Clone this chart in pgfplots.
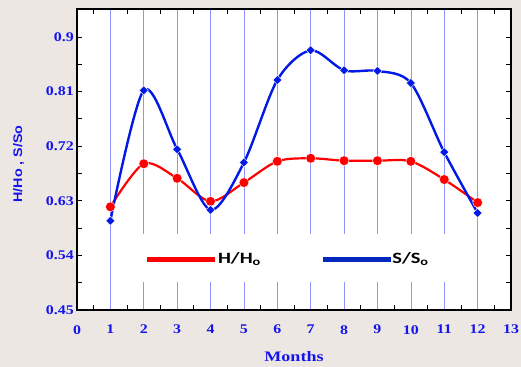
\documentclass[border=0pt]{standalone}
\usepackage{pgfplots}
\pgfplotsset{compat=1.18}
\usepackage{fontspec}
\setmainfont{Liberation Serif}
\newfontfamily\tickfont[FakeStretch=1.2]{Liberation Serif}
\newfontfamily\labfont[FakeStretch=1.25]{Liberation Serif}
\newfontfamily\legfont[FakeStretch=1.3]{Carlito}
\newfontfamily\ylabfont[FakeStretch=1.15]{Liberation Sans}
\definecolor{bg}{RGB}{236,231,226}
\definecolor{gridblue}{RGB}{145,145,255}
\definecolor{tickblue}{RGB}{20,20,235}
\definecolor{curveblue}{RGB}{0,25,230}
\definecolor{legblue}{RGB}{0,40,190}
\definecolor{curvered}{RGB}{255,0,0}

\pgfplotstableread{
m h s
1 0.620 0.597
2 0.691 0.812
3 0.667 0.715
4 0.629 0.615
5 0.660 0.693
6 0.695 0.829
7 0.700 0.878
8 0.696 0.845
9 0.696 0.844
10 0.695 0.824
11 0.665 0.710
12 0.627 0.610
}\datatable

\begin{document}
\begin{tikzpicture}
\fill[bg] (-77bp,-57bp) rectangle (444bp,310bp);
\begin{axis}[
  at={(0,0)}, anchor=south west,
  scale only axis, width=434bp, height=301bp,
  xmin=0, xmax=13, ymin=0.45, ymax=0.946,
  axis background/.style={fill=white},
  axis line style={line width=1.2bp, black},
  xtick={0,...,13},
  ytick={0.45,0.54,0.63,0.72,0.81,0.9},
  minor xtick={0.5,1.5,...,12.5},
  minor ytick={0.495,0.585,0.675,0.765,0.855},
  tick align=inside,
  major tick length=5bp, minor tick length=5bp,
  every tick/.style={black, line width=0.8bp},
  major x tick style={draw=none},
  xmajorgrids, major x grid style={gridblue, line width=0.6bp},
  /pgf/number format/assume math mode=true,
  tick label style={font=\tickfont\bfseries\fontsize{13.3}{14}\selectfont, text=tickblue},
  yticklabel style={inner sep=0pt, anchor=east, xshift=-3bp},
  xticklabel style={inner sep=0pt, anchor=north, yshift=-15bp},
  xlabel={Months},
  xlabel style={at={(axis description cs:0.5,0)}, anchor=center, yshift=-47bp,
    font=\labfont\bfseries\fontsize{14.5}{15}\selectfont, text=tickblue},
  ylabel={H/Ho , S/So},
  ylabel style={at={(axis description cs:0,0.485)}, anchor=center, yshift=58.5bp,
    font=\ylabfont\bfseries\fontsize{12.5}{13}\selectfont, text=tickblue},
  clip=false,
]
\addplot[curvered, line width=2.2bp, smooth, mark=*, mark size=4.9bp,
  mark options={fill=curvered, draw=white, line width=0.4bp}] table[x=m, y=h] {\datatable};
\addplot[curveblue, line width=2.4bp, smooth, mark=square*, mark size=3.2bp,
  mark options={fill=curveblue, draw=white, line width=0.4bp, rotate=45}] table[x=m, y=s] {\datatable};
\fill[white] (axis cs:1.3,0.4963) rectangle (axis cs:11.7,0.5757);
\draw[curvered, line width=5bp] (axis cs:2.10,0.534) -- (axis cs:4.13,0.534);
\node[anchor=west, inner sep=0pt, font=\legfont\bfseries\fontsize{15.8}{16}\selectfont]
  at (axis cs:4.22,0.534) {H/H\textsubscript{o}};
\draw[legblue, line width=5bp] (axis cs:7.37,0.534) -- (axis cs:9.41,0.534);
\node[anchor=west, inner sep=0pt, font=\legfont\bfseries\fontsize{15.8}{16}\selectfont]
  at (axis cs:9.44,0.534) {S/S\textsubscript{o}};
\end{axis}
\pgfresetboundingbox
\path (-77bp,-57bp) rectangle (444bp,310bp);
\end{tikzpicture}
\end{document}
